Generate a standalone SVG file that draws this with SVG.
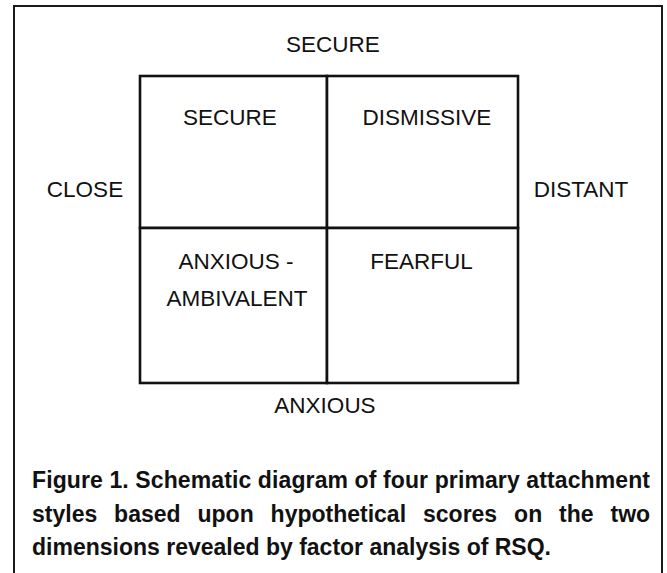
<svg xmlns="http://www.w3.org/2000/svg" width="667" height="573" viewBox="0 0 667 573">
  <style>
    .frame { fill: none; stroke: #1a1a1a; stroke-width: 2; }
    .cell { fill: #ffffff; stroke: #111111; stroke-width: 2.6; }
    .label { font-family: "Liberation Sans", Arial, sans-serif; font-size: 22.5px; fill: #111111; text-anchor: middle; }
    .caption { font-family: "Liberation Sans", Arial, sans-serif; font-size: 23px; font-weight: bold; fill: #111111; }
  </style>

  <rect x="0" y="0" width="667" height="573" fill="#ffffff"/>

  <!-- outer figure frame (open at the bottom of the page) -->
  <path class="frame" d="M14,590 V6 H662 V590"/>

  <!-- axis labels -->
  <g id="axis-secure"><text class="label" x="333" y="52">SECURE</text></g>
  <g id="axis-close"><text class="label" x="85" y="197">CLOSE</text></g>
  <g id="axis-distant"><text class="label" x="581" y="197">DISTANT</text></g>
  <g id="axis-anxious"><text class="label" x="325" y="413">ANXIOUS</text></g>

  <!-- four quadrants -->
  <g id="cell-secure">
    <rect class="cell" x="140" y="76" width="187" height="152"/>
    <text class="label" x="230" y="125">SECURE</text>
  </g>
  <g id="cell-dismissive">
    <rect class="cell" x="327" y="76" width="191" height="152"/>
    <text class="label" x="427" y="125">DISMISSIVE</text>
  </g>
  <g id="cell-anxious-ambivalent">
    <rect class="cell" x="140" y="228" width="187" height="155"/>
    <text class="label" x="236" y="269">ANXIOUS -</text>
    <text class="label" x="237" y="306">AMBIVALENT</text>
  </g>
  <g id="cell-fearful">
    <rect class="cell" x="327" y="228" width="191" height="155"/>
    <text class="label" x="421.5" y="269">FEARFUL</text>
  </g>

  <!-- connectors: none in this figure -->
  <g id="connectors"></g>

  <!-- caption -->
  <g id="caption">
    <text class="caption" x="32" y="488" textLength="618" lengthAdjust="spacing">Figure 1. Schematic diagram of four primary attachment</text>
    <text class="caption" y="522">
      <tspan x="32">styles</tspan>
      <tspan x="114.1">based</tspan>
      <tspan x="197.5">upon</tspan>
      <tspan x="270.6">hypothetical</tspan>
      <tspan x="423">scores</tspan>
      <tspan x="514.1">on</tspan>
      <tspan x="559.1">the</tspan>
      <tspan x="610.5">two</tspan>
    </text>
    <text class="caption" x="32" y="555">dimensions revealed by factor analysis of RSQ.</text>
  </g>
</svg>
